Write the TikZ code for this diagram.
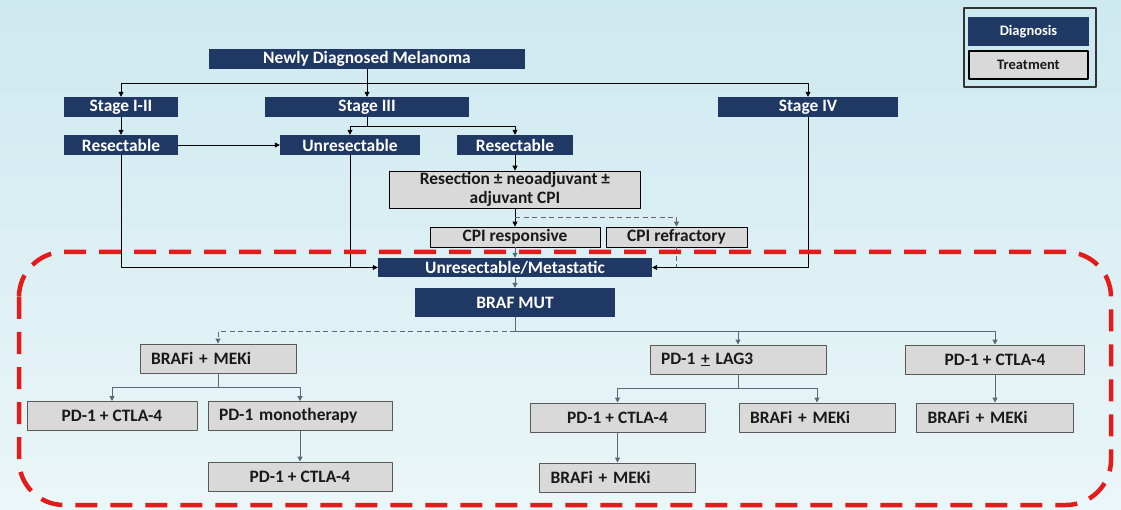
\documentclass[tikz,border=0pt]{standalone}
\usepackage{fontspec}
\setmainfont{Carlito}
\usetikzlibrary{arrows.meta}
\definecolor{navy}{HTML}{1F3864}
\definecolor{boxgray}{HTML}{D9D9D9}
\definecolor{linegray}{HTML}{5A6878}
\definecolor{dashred}{HTML}{E31B1B}
\definecolor{bgtop}{HTML}{CDE9F0}
\definecolor{bgbot}{HTML}{EBF6F8}
\begin{document}
\begin{tikzpicture}[x=1pt,y=-1pt,>={Triangle[length=5pt,width=5pt]},line join=round,
	font=\fontsize{17.4}{19.5}\selectfont\bfseries,
	diag/.style={fill=navy,text=white,minimum height=20pt,inner sep=0pt},
	treat/.style={fill=boxgray,draw=black,line width=.7pt,text=black!90,minimum height=20pt,inner sep=0pt},
	sub/.style={treat,draw=black!65,line width=.9pt,minimum height=29pt},
	subl/.style={sub,align=left,inner xsep=11pt,text width=#1},
	legtxt/.style={font=\fontsize{14.5}{16}\selectfont\bfseries},
	arr/.style={->,line width=.8pt},
	dash5/.style={dash pattern=on 5pt off 3.5pt},
	gline/.style={draw=linegray,line width=1pt},
	garr/.style={gline,->}]
	% background
	\fill[top color=bgtop,bottom color=bgbot] (0,0) rectangle (1121,510);
	\useasboundingbox (0,0) rectangle (1121,510);
	% legend
	\draw[draw=black!80,line width=1.5pt,fill=bgtop] (964,8) rectangle (1096,87);
	\node[diag,legtxt,minimum width=121pt,minimum height=29pt] (legd) at (1028.5,31.5) {Diagnosis};
	\node[treat,legtxt,line width=1.2pt,minimum width=119pt,minimum height=28pt] (legt) at (1028.5,65) {Treatment};
	% diagnosis path
	\node[diag,minimum width=316pt] (new) at (367,59) {Newly Diagnosed Melanoma};
	\node[diag,minimum width=114pt] (s12) at (121,107) {Stage I-II};
	\node[diag,minimum width=204pt] (s3) at (367,107) {Stage III};
	\node[diag,minimum width=180pt] (s4) at (808,107) {Stage IV};
	\node[diag,minimum width=114pt] (resL) at (121,145) {Resectable};
	\node[diag,minimum width=140pt] (unres) at (350,145) {Unresectable};
	\node[diag,minimum width=116pt] (resR) at (515,145) {Resectable};
	\node[treat,minimum width=251pt,minimum height=37pt,align=center] (resect) at (515,189.5) {Resection ± neoadjuvant ±\\adjuvant CPI};
	\node[treat,minimum width=170pt] (cpir) at (515,237) {CPI responsive};
	\node[treat,minimum width=141pt] (cpif) at (676.5,237) {CPI refractory};
	\node[diag,minimum width=274pt,minimum height=19pt] (met) at (515,267.5) {Unresectable/Metastatic};
	\node[diag,minimum width=200pt,minimum height=29pt] (braf) at (515,302.5) {BRAF MUT};
	% treatment lines
	\node[subl=134pt] (bm1) at (218,358.5) {BRAFi + MEKi};
	\node[sub,minimum width=170pt] (pc1) at (112,416) {PD-1 + CTLA-4};
	\node[subl=162pt] (mono) at (300,416) {PD-1 monotherapy};
	\node[sub,minimum width=184pt] (pc2) at (300,476.5) {PD-1 + CTLA-4};
	\node[subl=154pt] (lag) at (738,359.5) {PD-1 \underline{+} LAG3};
	\node[sub,minimum width=179pt] (pc3) at (995,359.5) {PD-1 + CTLA-4};
	\node[sub,minimum width=175pt] (pc4) at (617.5,417.5) {PD-1 + CTLA-4};
	\node[subl=134pt] (bm2) at (817,417.5) {BRAFi + MEKi};
	\node[subl=135pt] (bm3) at (995,417.5) {BRAFi + MEKi};
	\node[subl=134pt] (bm4) at (617.5,477.5) {BRAFi + MEKi};
	% connectors, top
	\draw[arr] (new.south) -- ++(0,14) coordinate (hub) -| (s12);
	\draw[arr] (hub) -- (s3);
	\draw[arr] (hub) -| (s4);
	\draw[arr] (s12) -- (resL);
	\draw[arr] (s3.south) -- ++(0,9) coordinate (hub3) -| (unres);
	\draw[arr] (hub3) -| (resR);
	\draw[arr] (resL) -- (unres);
	\draw[arr] (resR) -- (resect);
	\path (resect.south) -- (cpir.north) coordinate[pos=0.5] (hubc);
	\draw[arr] (resect) -- (cpir);
	\draw[arr,dash5,draw=black!60] (hubc) -| (cpif);
	\draw[garr] (cpir) -- (met);
	\draw[arr] (resL) |- (met);
	\draw[line width=.8pt] (unres) -- (unres |- met);
	\draw[arr] (s4) |- (met);
	\draw[dash5,draw=black!60,line width=.8pt] (cpif) -- (cpif |- met);
	\draw[garr] (met) -- (braf);
	% connectors, bottom
	\path (braf.south) -- ++(0,14) coordinate (hubb);
	\draw[gline] (braf.south) -- (hubb);
	\draw[garr,dash5] (hubb) -| (bm1);
	\draw[garr] (hubb) -| (lag);
	\draw[garr] (hubb) -| (pc3);
	\draw[garr] (bm1.south) -- ++(0,14) coordinate (hubm) -| (pc1);
	\draw[garr] (hubm) -| (mono);
	\draw[garr] (mono) -- (pc2);
	\draw[garr] (lag.south) -- ++(0,14) coordinate (hubl) -| (pc4);
	\draw[garr] (hubl) -| (bm2);
	\draw[garr] (pc3) -- (bm3);
	\draw[garr] (pc4) -- (bm4);
	% metastatic frame
	\draw[dashred,line width=4.5pt,dash pattern=on 22pt off 13pt,rounded corners=45pt] (19,252) rectangle (1111,505);
\end{tikzpicture}
\end{document}
